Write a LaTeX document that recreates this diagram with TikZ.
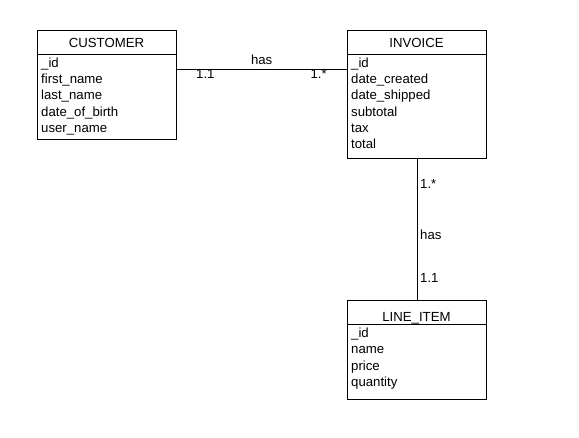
\documentclass[tikz,border=0pt]{standalone}
\usepackage{fontspec}
\setmainfont{Liberation Sans}
\usetikzlibrary{calc}
\begin{document}
\begin{tikzpicture}[x=1pt,y=-1pt,
  ent/.style={draw=black,line width=1pt,inner sep=0pt,anchor=north west},
  hdr/.style={anchor=base,inner sep=0pt,font=\fontsize{13.2}{15}\selectfont},
  row/.style={anchor=base west,inner sep=0pt,font=\fontsize{13.2}{15}\selectfont},
  lbl/.style={inner sep=0pt,font=\fontsize{13.2}{15}\selectfont},
  conn/.style={draw=black,line width=1pt}]
\useasboundingbox (0,0) rectangle (579,438);
\fill[white] (0,0) rectangle (579,438);
% CUSTOMER
\node[ent,minimum width=139pt,minimum height=109pt] (cust) at (37,30) {};
\draw[line width=1pt] (37,54.5) coordinate (custdl) -- (176,54.5) coordinate (custdr);
\node[hdr] (custh) at (106.5,47.5) {CUSTOMER};
\foreach \t [count=\i] in {\_id,first\_name,last\_name,date\_of\_birth,user\_name}
  \node[row] (cust-r\i) at (41,{67.5+16.2*(\i-1)}) {\t};
% INVOICE
\node[ent,minimum width=139pt,minimum height=128pt] (inv) at (347,30) {};
\draw[line width=1pt] (347,54.5) coordinate (invdl) -- (486,54.5) coordinate (invdr);
\node[hdr] (invh) at (416.5,47.5) {INVOICE};
\foreach \t [count=\i] in {\_id,date\_created,date\_shipped,subtotal,tax,total}
  \node[row] (inv-r\i) at (351,{67.5+16.2*(\i-1)}) {\t};
% LINE_ITEM
\node[ent,minimum width=139pt,minimum height=99pt] (item) at (347,300) {};
\draw[line width=1pt] (347,324.5) coordinate (itemdl) -- (486,324.5) coordinate (itemdr);
\node[hdr] (itemh) at (416.5,321.7) {LINE\_ITEM};
\foreach \t [count=\i] in {\_id,name,price,quantity}
  \node[row] (item-r\i) at (351,{337.7+16.2*(\i-1)}) {\t};
% connectors
\coordinate (c1) at ($(cust.north east)+(0,40)$);
\coordinate (c2) at ($(inv.north west)+(0,40)$);
\draw[conn] (c1) -- (c2);
\draw[conn] (inv.south) -- (item.north);
% labels
\node[lbl,anchor=base] (has1) at (261.7,65) {has};
\node[lbl,anchor=base west] (m1) at (196,78.3) {1.1};
\node[lbl,anchor=base east] (m2) at (327,78.3) {1.*};
\node[lbl,anchor=base west] (m3) at (420,189) {1.*};
\node[lbl,anchor=base west] (has2) at (420,240) {has};
\node[lbl,anchor=base west] (m4) at (420,282.3) {1.1};
\end{tikzpicture}
\end{document}
